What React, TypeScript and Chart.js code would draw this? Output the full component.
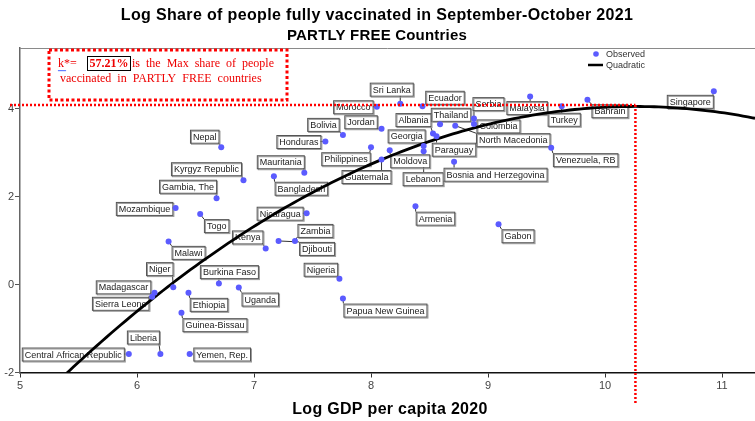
import React, { useEffect, useRef } from "react";
import { Chart, registerables } from "chart.js";

Chart.register(...registerables);

// ---- data ----
const countries = [
  "Sri Lanka", "Ecuador", "Morocco", "Serbia", "Colombia", "Malaysia", "Turkey", "Bahrain", "Singapore",
  "Thailand", "North Macedonia", "Albania", "Paraguay", "Jordan", "Bolivia", "Honduras", "Nepal",
  "Georgia", "Lebanon", "Philippines", "Moldova", "Guatemala", "Bosnia and Herzegovina", "Venezuela, RB",
  "Mauritania", "Bangladesh", "Kyrgyz Republic", "Gambia, The", "Mozambique", "Togo", "Nicaragua",
  "Armenia", "Gabon", "Zambia", "Djibouti", "Kenya", "Malawi", "Niger", "Burkina Faso", "Nigeria",
  "Madagascar", "Uganda", "Sierra Leone", "Ethiopia", "Papua New Guinea", "Guinea-Bissau", "Liberia",
  "Central African Republic", "Yemen, Rep.",
];
const logGdp = [
  8.25, 8.44, 8.05, 8.88, 8.88, 9.36, 9.63, 9.85, 10.93,
  8.59, 8.72, 8.53, 8.56, 8.09, 7.76, 7.61, 6.72,
  8.45, 8.45, 8.0, 8.16, 8.09, 8.71, 9.54,
  7.43, 7.17, 6.91, 6.68, 6.33, 6.54, 7.45,
  8.38, 9.09, 7.35, 7.21, 7.1, 6.27, 6.31, 6.7, 7.73,
  6.15, 6.87, 6.13, 6.44, 7.76, 6.38, 6.2,
  5.93, 6.45,
];
const logShare = [
  4.11, 4.05, 4.04, 3.77, 3.65, 4.27, 4.05, 4.2, 4.39,
  3.64, 3.61, 3.43, 3.37, 3.54, 3.4, 3.25, 3.12,
  3.15, 3.03, 3.12, 3.05, 2.84, 2.79, 3.11,
  2.54, 2.46, 2.37, 1.96, 1.74, 1.6, 1.62,
  1.78, 1.37, 0.99, 0.99, 0.82, 0.98, -0.06, 0.02, 0.13,
  -0.19, -0.07, -0.28, -0.19, -0.32, -0.64, -1.58,
  -1.58, -1.58,
];
const xTicks = [5, 6, 7, 8, 9, 10, 11];
const yTicks = [-2, 0, 2, 4];
// quadratic fit y = b0 + b1 x + b2 x^2 (vertex ~ (10.26, 4.05))
const quadCoeffs = [-22.965, 5.2654, -0.2566];
const kStarX = 10.26;
const kStarY = 4.08;
const kStarPct = "57.21%";

// ---- layout: label box offsets (px) relative to each point ----
const labelOffsets: [number, number][] = [
  [-9, -14.5], [22, -9], [-24, 0], [14, -15], [24, 2], [-3.5, 11], [2, 13], [22, 11], [-24, 10],
  [10.5, -10], [57.5, 14], [-20, -14], [17, 13], [-21, -7], [-20, -10.5], [-27, 0], [-17, -11],
  [-17.5, -10], [-1, 27.5], [-25.5, 11.5], [20, 10.5], [-15.5, 17], [41, 12.5], [34, 12],
  [-24, -11], [27, 12], [-37.5, -11.5], [-29, -12], [-31.5, 0.5], [16, 11.5], [-27, 0],
  [19.5, 12], [19, 11.5], [20, -10.5], [38, 7.5], [-18.5, -11.5], [19.5, 11], [-14, -18.5], [10, -12], [-19, -9.5],
  [-31.5, -6], [21, 11.5], [-32, 6.5], [20, 11.5], [42, 11.5], [33, 12], [-17.5, -17],
  [-56, 0], [32, 0],
];

const SANS = "Arial, 'Liberation Sans', sans-serif";
const SERIF = "'Times New Roman', 'Liberation Serif', serif";

const overlay = {
  id: "overlay",
  beforeDatasetsDraw(chart: any) {
    const ctx = chart.ctx;
    const xs = chart.scales.x;
    const ys = chart.scales.y;
    ctx.save();
    ctx.font = `9px ${SANS}`;
    ctx.textAlign = "center";
    ctx.textBaseline = "middle";
    countries.forEach((name, i) => {
      const px = xs.getPixelForValue(logGdp[i]);
      const py = ys.getPixelForValue(logShare[i]);
      const [dx, dy] = labelOffsets[i];
      const cx = px + dx;
      const cy = py + dy;
      const w = ctx.measureText(name).width + 5;
      const h = 13;
      const l = cx - w / 2, t = cy - h / 2;
      const nx = Math.max(l, Math.min(px, l + w));
      const ny = Math.max(t, Math.min(py, t + h));
      if (Math.hypot(nx - px, ny - py) > 3) {
        ctx.strokeStyle = "#333";
        ctx.lineWidth = 1;
        ctx.beginPath();
        ctx.moveTo(px, py);
        ctx.lineTo(nx, ny);
        ctx.stroke();
      }
      ctx.fillStyle = "#fff";
      ctx.fillRect(l, t, w, h);
      ctx.strokeStyle = "#9a9a9a";
      ctx.lineWidth = 1;
      ctx.strokeRect(l + 1.5, t + 1.5, w, h);
      ctx.strokeStyle = "#555";
      ctx.strokeRect(l + 0.5, t + 0.5, w, h);
      ctx.fillStyle = "#222";
      ctx.fillText(name, cx + 0.5, cy + 1);
    });
    ctx.restore();
  },
  afterDraw(chart: any) {
    const ctx = chart.ctx;
    const xs = chart.scales.x;
    const ys = chart.scales.y;
    const area = chart.chartArea;
    ctx.save();
    ctx.strokeStyle = "#8a8a8a";
    ctx.lineWidth = 1;
    ctx.beginPath();
    ctx.moveTo(area.left, area.top + 0.5);
    ctx.lineTo(area.right, area.top + 0.5);
    ctx.stroke();

    // titles
    ctx.fillStyle = "#000";
    ctx.textAlign = "center";
    ctx.textBaseline = "middle";
    ctx.font = `bold 16px ${SANS}`;
    (ctx as any).letterSpacing = "0.35px";
    ctx.fillText("Log Share of people fully vaccinated in September-October 2021", 377, 16);
    ctx.font = `bold 15px ${SANS}`;
    (ctx as any).letterSpacing = "0.2px";
    ctx.fillText("PARTLY FREE Countries", 377, 36);
    ctx.font = `bold 16px ${SANS}`;
    (ctx as any).letterSpacing = "0.3px";
    ctx.fillText("Log GDP per capita 2020", 390, 410);
    (ctx as any).letterSpacing = "0px";

    // legend
    ctx.font = `9px ${SANS}`;
    ctx.textAlign = "left";
    ctx.fillStyle = "#5b5bff";
    ctx.beginPath();
    ctx.arc(596, 54, 2.8, 0, Math.PI * 2);
    ctx.fill();
    ctx.fillStyle = "#333";
    ctx.fillText("Observed", 606, 54.5);
    ctx.strokeStyle = "#000";
    ctx.lineWidth = 2.5;
    ctx.beginPath();
    ctx.moveTo(588, 65);
    ctx.lineTo(603, 65);
    ctx.stroke();
    ctx.fillText("Quadratic", 606, 65.5);

    // red dotted k* lines
    const kx = xs.getPixelForValue(kStarX);
    const ky = ys.getPixelForValue(kStarY);
    ctx.strokeStyle = "#ff0000";
    ctx.lineWidth = 2.5;
    ctx.setLineDash([2, 2]);
    ctx.beginPath();
    ctx.moveTo(10, ky);
    ctx.lineTo(kx, ky);
    ctx.moveTo(kx, ky);
    ctx.lineTo(kx, 405);
    ctx.stroke();

    // annotation box
    ctx.lineWidth = 3;
    ctx.setLineDash([3, 2.5]);
    ctx.strokeRect(49, 50, 238, 50);
    ctx.setLineDash([]);

    ctx.fillStyle = "#ee0000";
    ctx.font = `12px ${SERIF}`;
    ctx.textAlign = "left";
    ctx.fillText("k*=", 58, 64);
    ctx.strokeStyle = "#3355ff";
    ctx.lineWidth = 0.8;
    ctx.beginPath();
    for (let i = 0; i <= 8; i++) {
      const xx = 58 + i;
      const yy = 70 + (i % 2 === 0 ? 0 : 1.2);
      if (i === 0) ctx.moveTo(xx, yy);
      else ctx.lineTo(xx, yy);
    }
    ctx.stroke();
    ctx.font = `bold 12px ${SERIF}`;
    const pw = ctx.measureText(kStarPct).width;
    ctx.strokeStyle = "#000";
    ctx.lineWidth = 1;
    ctx.strokeRect(87.5, 56.5, pw + 4, 14);
    ctx.fillText(kStarPct, 89.5, 64);
    ctx.font = `12px ${SERIF}`;
    ctx.fillText("is  the  Max  share  of  people", 132, 64);
    ctx.fillText("vaccinated  in  PARTLY  FREE  countries", 60, 79);
    ctx.restore();
  },
};

export default function App() {
  const ref = useRef<HTMLCanvasElement>(null);
  useEffect(() => {
    document.body.style.margin = "0";
    const canvas = ref.current!;
    const xMin = 5, xMax = 11.282;
    const curve: { x: number; y: number }[] = [];
    for (let x = 5.3; x <= xMax + 0.001; x += 0.04) {
      curve.push({ x, y: quadCoeffs[0] + quadCoeffs[1] * x + quadCoeffs[2] * x * x });
    }
    curve.push({ x: xMax, y: quadCoeffs[0] + quadCoeffs[1] * xMax + quadCoeffs[2] * xMax * xMax });
    const chart = new Chart(canvas, {
      type: "scatter",
      data: {
        datasets: [
          {
            label: "Observed",
            data: logGdp.map((x, i) => ({ x, y: logShare[i] })),
            backgroundColor: "#5b5bff",
            borderWidth: 0,
            pointRadius: 3,
          },
          {
            label: "Quadratic",
            data: curve,
            showLine: true,
            borderColor: "#000",
            borderWidth: 2.8,
            pointRadius: 0,
            tension: 0,
          } as any,
        ],
      },
      options: {
        responsive: false,
        animation: false,
        layout: { autoPadding: false, padding: { top: 48, right: 0, left: 0, bottom: 0 } },
        plugins: { legend: { display: false }, tooltip: { enabled: false }, title: { display: false } },
        scales: {
          x: {
            type: "linear",
            min: xMin,
            max: xMax,
            afterBuildTicks: (s: any) => { s.ticks = xTicks.map((v) => ({ value: v })); },
            afterFit: (s: any) => { s.height = 48.5; s.paddingRight = 0; s.paddingLeft = 0; },
            grid: { drawOnChartArea: false, drawTicks: true, tickLength: 5, color: "#333" },
            border: { display: true, color: "#111", width: 1.5 },
            ticks: { color: "#444", font: { size: 11, family: SANS }, padding: 2, autoSkip: false, maxRotation: 0 },
          },
          y: {
            type: "linear",
            min: -2,
            max: 5.375,
            afterBuildTicks: (s: any) => { s.ticks = yTicks.map((v) => ({ value: v })); },
            afterFit: (s: any) => { s.width = 20; s.paddingTop = 0; s.paddingBottom = 0; },
            grid: { drawOnChartArea: false, drawTicks: true, tickLength: 5, color: "#555" },
            border: { display: true, color: "#666", width: 1.5 },
            ticks: { color: "#444", font: { size: 11, family: SANS }, padding: 1 },
          },
        },
      },
      plugins: [overlay],
    });
    return () => chart.destroy();
  }, []);
  return <canvas ref={ref} width={755} height={421} style={{ display: "block" }} />;
}
